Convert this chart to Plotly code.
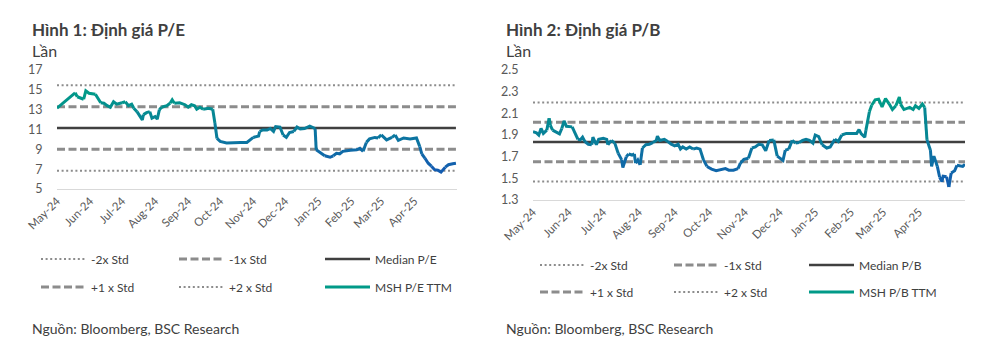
import plotly.graph_objects as go

# ---------------- data ----------------
pe_dates = ["2024-05-01","2024-05-18","2024-05-20","2024-05-24","2024-05-26","2024-05-28","2024-05-31","2024-06-06",
            "2024-06-11","2024-06-14","2024-06-17","2024-06-20","2024-06-23","2024-06-26","2024-07-01","2024-07-04",
            "2024-07-07","2024-07-10","2024-07-12","2024-07-15","2024-07-18","2024-07-20","2024-07-21","2024-07-24",
            "2024-07-27","2024-07-29","2024-08-01","2024-08-03","2024-08-05","2024-08-07","2024-08-12","2024-08-15",
            "2024-08-17","2024-08-19","2024-08-24","2024-08-29","2024-09-01","2024-09-04","2024-09-07","2024-09-09",
            "2024-09-12","2024-09-15","2024-09-20","2024-09-24","2024-09-26","2024-09-28","2024-10-01","2024-10-07",
            "2024-10-13","2024-10-20","2024-10-26","2024-10-29","2024-11-01","2024-11-06","2024-11-07","2024-11-10",
            "2024-11-14","2024-11-17","2024-11-20","2024-11-22","2024-11-26","2024-11-29","2024-12-02","2024-12-05",
            "2024-12-09","2024-12-12","2024-12-15","2024-12-19","2024-12-24","2024-12-29","2024-12-30","2025-01-02",
            "2025-01-07","2025-01-12","2025-01-15","2025-01-18","2025-01-21","2025-01-24","2025-01-31","2025-02-06",
            "2025-02-09","2025-02-12","2025-02-15","2025-02-18","2025-02-23","2025-02-26","2025-03-01","2025-03-06",
            "2025-03-11","2025-03-14","2025-03-17","2025-03-22","2025-03-28","2025-04-03","2025-04-06","2025-04-08",
            "2025-04-11","2025-04-14","2025-04-17","2025-04-20","2025-04-23","2025-04-26","2025-04-30","2025-05-03",
            "2025-05-07","2025-05-10"]
pe_values = [13.15,14.7,14.3,14.15,14.05,14.9,14.65,14.55,13.7,13.65,13.4,13.25,13.8,13.55,13.7,13.8,13.4,13.55,
             13.15,12.8,12.3,11.97,12.5,12.7,12.8,12.15,12.3,12.05,13.0,13.25,13.4,13.65,14.0,13.65,13.7,13.5,
             13.25,13.5,13.4,13.05,13.25,13.05,13.15,13.05,11.65,10.1,9.8,9.65,9.7,9.7,9.7,9.95,10.2,10.35,10.8,
             10.95,10.95,11.1,10.8,11.3,11.25,10.45,10.2,10.7,10.8,11.25,11.05,11.1,11.35,11.1,8.95,8.7,8.35,8.2,
             8.35,8.6,8.55,8.8,8.9,8.95,9.1,8.8,9.7,10.05,10.2,10.15,10.45,9.95,10.2,10.45,9.9,10.15,10.05,10.15,
             9.3,8.55,8.1,7.6,7.3,6.95,6.9,6.7,7.2,7.45,7.55,7.6]
pe_bands = {"-2x Std": 6.85, "-1x Std": 9.0, "Median P/E": 11.15, "+1 x Std": 13.3, "+2 x Std": 15.45}

pb_dates = ["2024-05-01","2024-05-04","2024-05-06","2024-05-08","2024-05-10","2024-05-13","2024-05-15","2024-05-16",
            "2024-05-18","2024-05-21","2024-05-24","2024-05-26","2024-05-28","2024-05-30","2024-06-04","2024-06-06",
            "2024-06-09","2024-06-11","2024-06-13","2024-06-15","2024-06-18","2024-06-21","2024-06-22","2024-06-25",
            "2024-06-27","2024-07-01","2024-07-04","2024-07-05","2024-07-08","2024-07-11","2024-07-14","2024-07-17",
            "2024-07-18","2024-07-21","2024-07-23","2024-07-26","2024-07-28","2024-07-29","2024-07-31","2024-08-02",
            "2024-08-04","2024-08-07","2024-08-10","2024-08-13","2024-08-16","2024-08-17","2024-08-19","2024-08-23",
            "2024-08-26","2024-08-29","2024-09-01","2024-09-04","2024-09-06","2024-09-08","2024-09-11","2024-09-14",
            "2024-09-17","2024-09-20","2024-09-23","2024-09-26","2024-09-29","2024-10-03","2024-10-07","2024-10-12",
            "2024-10-15","2024-10-18","2024-10-22","2024-10-26","2024-10-28","2024-10-31","2024-11-04","2024-11-07",
            "2024-11-10","2024-11-13","2024-11-16","2024-11-19","2024-11-22","2024-11-26","2024-11-29","2024-12-02",
            "2024-12-04","2024-12-06","2024-12-09","2024-12-12","2024-12-15","2024-12-18","2024-12-21","2024-12-24",
            "2024-12-27","2024-12-30","2025-01-01","2025-01-04","2025-01-07","2025-01-11","2025-01-14","2025-01-18",
            "2025-01-21","2025-01-24","2025-01-28","2025-02-03","2025-02-06","2025-02-08","2025-02-10","2025-02-13",
            "2025-02-14","2025-02-17","2025-02-19","2025-02-22","2025-02-25","2025-02-28","2025-03-03","2025-03-06",
            "2025-03-09","2025-03-12","2025-03-15","2025-03-16","2025-03-19","2025-03-24","2025-03-27","2025-03-29",
            "2025-04-01","2025-04-04","2025-04-06","2025-04-08","2025-04-11","2025-04-12","2025-04-14","2025-04-17",
            "2025-04-19","2025-04-21","2025-04-22","2025-04-25","2025-04-27","2025-04-29","2025-05-02","2025-05-04",
            "2025-05-07","2025-05-09","2025-05-11"]
pb_values = [1.93,1.92,1.90,1.96,1.915,1.945,2.055,1.99,1.945,1.93,1.91,1.96,2.03,1.98,1.975,1.93,1.86,1.855,1.88,
             1.84,1.815,1.81,1.88,1.81,1.86,1.87,1.86,1.81,1.85,1.825,1.73,1.67,1.60,1.70,1.725,1.715,1.725,1.64,
             1.67,1.625,1.78,1.81,1.815,1.83,1.85,1.89,1.85,1.86,1.84,1.815,1.80,1.815,1.77,1.79,1.77,1.79,1.77,
             1.78,1.77,1.67,1.61,1.585,1.57,1.585,1.59,1.575,1.575,1.59,1.64,1.675,1.685,1.78,1.79,1.815,1.81,
             1.755,1.85,1.855,1.705,1.685,1.665,1.76,1.77,1.85,1.825,1.83,1.85,1.86,1.85,1.825,1.90,1.885,1.81,
             1.78,1.79,1.86,1.84,1.90,1.915,1.915,1.915,1.95,1.91,1.88,1.945,2.115,2.175,2.225,2.23,2.16,2.235,
             2.19,2.135,2.17,2.25,2.185,2.135,2.155,2.135,2.17,2.145,2.185,2.155,1.855,1.76,1.61,1.705,1.61,1.51,
             1.47,1.52,1.515,1.42,1.55,1.57,1.62,1.615,1.61,1.63]
pb_bands = {"-2x Std": 1.471, "-1x Std": 1.653, "Median P/B": 1.835, "+1 x Std": 2.017, "+2 x Std": 2.199}

month_ticks = ["2024-05-01","2024-06-01","2024-07-01","2024-08-01","2024-09-01","2024-10-01",
               "2024-11-01","2024-12-01","2025-01-01","2025-02-01","2025-03-01","2025-04-01"]
month_labels = ["May-24","Jun-24","Jul-24","Aug-24","Sep-24","Oct-24",
                "Nov-24","Dec-24","Jan-25","Feb-25","Mar-25","Apr-25"]
x_range = ["2024-05-01", "2025-05-11"]

assert len(pe_dates) == len(pe_values), (len(pe_dates), len(pe_values))
assert len(pb_dates) == len(pb_values), (len(pb_dates), len(pb_values))

# ---------------- styling ----------------
W, H = 982, 352
FONT = "Lato"
TXT = "#404040"
TICK = "#595959"
GRAY = "#8c8c8c"
LOW_RGB = (20, 90, 178)
HIGH_RGB = (0, 156, 134)

band_style = {
    "-2x Std": dict(color=GRAY, width=2, dash="2px,2.6px"),
    "-1x Std": dict(color=GRAY, width=3, dash="8px,3.5px"),
    "median": dict(color="#404040", width=2.5),
    "+1 x Std": dict(color=GRAY, width=3, dash="8px,3.5px"),
    "+2 x Std": dict(color=GRAY, width=2, dash="2px,2.6px"),
}


def px(x):
    return x / W


def py(y):
    return 1 - y / H


def mix(t):
    c = [round(LOW_RGB[i] + (HIGH_RGB[i] - LOW_RGB[i]) * t) for i in range(3)]
    return "rgb(%d,%d,%d)" % tuple(c)


fig = go.Figure()


def add_chart(dates, vals, bands, series_name, xa, ya, legends):
    order = list(bands.keys())
    x2 = [dates[0], dates[-1]]
    for k, name in enumerate(order):
        style = band_style["median"] if name.startswith("Median") else band_style[name]
        fig.add_trace(go.Scatter(x=x2, y=[bands[name]] * 2, mode="lines", name=name,
                                 line=style, xaxis=xa, yaxis=ya, legend=legends[k],
                                 hoverinfo="skip"))
    # gradient-coloured valuation line: segments grouped into colour bins by value
    nb = 14
    vmin, vmax = min(vals), max(vals)
    bins = {}
    prev = None
    for i in range(len(vals) - 1):
        t = ((vals[i] + vals[i + 1]) / 2 - vmin) / (vmax - vmin)
        b = min(nb - 1, int(t * nb))
        xs, ys = bins.setdefault(b, ([], []))
        if prev != b:
            if xs:
                xs.append(None)
                ys.append(None)
            xs.append(dates[i])
            ys.append(vals[i])
        xs.append(dates[i + 1])
        ys.append(vals[i + 1])
        prev = b
    top = max(bins.keys())
    for b in sorted(bins):
        xs, ys = bins[b]
        fig.add_trace(go.Scatter(x=xs, y=ys, mode="lines", name=series_name,
                                 line=dict(color=mix((b + 0.5) / nb), width=3),
                                 xaxis=xa, yaxis=ya, legend=legends[5],
                                 showlegend=(b == top), connectgaps=False))


left_legends = ["legend2", "legend3", "legend4", "legend5", "legend6", "legend7"]
right_legends = ["legend8", "legend9", "legend10", "legend11", "legend12", "legend13"]
add_chart(pe_dates, pe_values, pe_bands, "MSH P/E TTM", "x", "y", left_legends)
add_chart(pb_dates, pb_values, pb_bands, "MSH P/B TTM", "x2", "y2", right_legends)

xcommon = dict(type="date", range=x_range, tickmode="array", tickvals=month_ticks, ticktext=month_labels,
               tickangle=-45, showgrid=False, zeroline=False, automargin=False,
               showline=True, linecolor="#d9d9d9", linewidth=1, ticks="",
               tickfont=dict(family=FONT, size=11.5, color=TICK))
ycommon = dict(showgrid=False, zeroline=False, showline=False, ticks="outside", ticklen=11,
               tickcolor="rgba(0,0,0,0)", automargin=False,
               tickfont=dict(family=FONT, size=12.5, color=TICK))

layout = dict(
    template="none",
    width=W, height=H, margin=dict(l=0, r=0, t=0, b=0, autoexpand=False),
    paper_bgcolor="white", plot_bgcolor="white",
    font=dict(family=FONT, color=TXT),
    hovermode=False,
    xaxis=dict(domain=[px(57), px(457)], anchor="y", **xcommon),
    yaxis=dict(domain=[py(189), py(70)], anchor="x", range=[5, 17], dtick=2, tick0=5, **ycommon),
    xaxis2=dict(domain=[px(533), px(965)], anchor="y2", **xcommon),
    yaxis2=dict(domain=[py(200), py(70)], anchor="x2", range=[1.3, 2.5], dtick=0.2, tick0=1.3,
                tickformat=".1f", **ycommon),
)

# legend placement (text start x, row centre y) per item
left_pos = [(92, 259), (230, 259), (376, 259), (92, 287), (230, 287), (376, 287)]
right_pos = [(591, 265), (725, 265), (860, 265), (591, 292), (725, 292), (860, 292)]
for names, pos in ((left_legends, left_pos), (right_legends, right_pos)):
    for nm, (tx, ty) in zip(names, pos):
        layout[nm] = dict(x=px(tx - 56), y=py(ty), xanchor="left", yanchor="middle",
                          bgcolor="rgba(0,0,0,0)", borderwidth=0, itemwidth=45,
                          font=dict(family=FONT, size=12, color=TXT))

fig.update_layout(**layout)

annots = [
    ("<b>Hình 1: Định giá P/E</b>", 30, 30, 17),
    ("Lần", 30, 50, 16),
    ("<b>Hình 2: Định giá P/B</b>", 504, 30, 17),
    ("Lần", 504, 50, 16),
    ("Nguồn: Bloomberg, BSC Research", 30, 328, 14),
    ("Nguồn: Bloomberg, BSC Research", 504, 328, 14),
]
for text, x, y, size in annots:
    fig.add_annotation(text=text, x=px(x), y=py(y), xref="paper", yref="paper",
                       xanchor="left", yanchor="middle", showarrow=False,
                       font=dict(family=FONT, size=size, color=TXT))

fig.write_html("out.html")
